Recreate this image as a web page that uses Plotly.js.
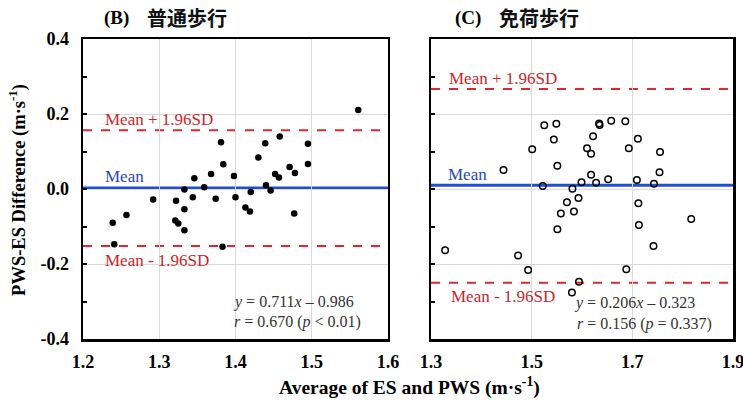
<!DOCTYPE html>
<html>
<head>
<meta charset="utf-8">
<script src="https://cdn.plot.ly/plotly-3.0.1.min.js"></script>
<style>html,body{margin:0;padding:0;background:#fff;}#chart{width:743px;height:405px;}</style>
</head>
<body>
<div id="chart"></div>
<script>
// (B) 普通歩行 — Average (x) vs Difference (y)
const normalAvg = [1.561,1.239,1.241,1.257,1.292,1.322,1.321,1.325,1.333,1.333,1.333,1.344,1.346,1.359,1.368,1.374,1.381,1.384,1.383,1.398,1.400,1.413,1.419,1.420,1.430,1.439,1.440,1.446,1.452,1.457,1.458,1.471,1.477,1.478,1.495,1.495];
const normalDiff = [0.211,-0.090,-0.147,-0.069,-0.028,-0.031,-0.084,-0.092,-0.054,-0.110,-0.001,-0.022,0.029,0.005,0.040,-0.026,0.125,0.066,-0.154,0.035,-0.022,-0.049,-0.060,-0.008,0.084,0.122,0.010,-0.004,0.040,0.031,0.140,0.059,-0.065,0.043,0.121,0.067];
// (C) 免荷歩行
const unloadAvg = [1.328,1.444,1.473,1.493,1.501,1.522,1.525,1.544,1.549,1.551,1.551,1.558,1.570,1.581,1.580,1.584,1.593,1.594,1.599,1.610,1.618,1.618,1.622,1.628,1.634,1.635,1.652,1.658,1.686,1.688,1.693,1.709,1.711,1.712,1.713,1.742,1.743,1.754,1.755,1.817];
const unloadDiff = [-0.163,0.051,-0.177,-0.216,0.106,0.008,0.170,0.132,0.174,0.062,-0.107,-0.065,-0.035,0.001,-0.276,-0.060,-0.024,-0.247,0.018,0.109,0.094,0.038,0.141,0.017,0.175,0.171,0.026,0.182,0.181,-0.214,0.109,0.024,0.134,-0.038,-0.096,-0.152,0.014,0.045,0.099,-0.080];
// Mean and limits of agreement [B, C]
const meanLines = [0.003, 0.010];
const upperLines = [0.157, 0.267];
const lowerLines = [-0.152, -0.250];
// Tick labels
const yTickVals = [-0.4,-0.2,0,0.2,0.4];
const yTickText = ['-0.4','-0.2','0.0','0.2','0.4'];
const xTickValsB = [1.2,1.3,1.4,1.5,1.6];
const xTickTextB = ['1.2','1.3','1.4','1.5','1.6'];
const xTickValsC = [1.3,1.5,1.7,1.9];
const xTickTextC = ['1.3','1.5','1.7','1.9'];
const panelLetters = ['(B)', '(C)'];
const panelNames = ['普通歩行', '免荷歩行'];
const eqLines = ['<i>y</i> = 0.711<i>x</i> – 0.986', '<i>r</i> = 0.670 (<i>p</i> < 0.01)',
                 '<i>y</i> = 0.206<i>x</i> – 0.323', '<i>r</i> = 0.156 (<i>p</i> = 0.337)'];

const serif = 'Liberation Serif, Times New Roman, Noto Sans CJK JP, serif';
const cjk = 'Noto Sans CJK JP, sans-serif';
const RED = '#e0272d', BLUE = '#1f4fd6', RED_T = '#c8262c', BLUE_T = '#2846c0';

const traces = [
  {x: normalAvg, y: normalDiff, xaxis:'x', yaxis:'y', mode:'markers', type:'scatter',
   marker:{color:'#000', size:6.5}, hoverinfo:'x+y'},
  {x: unloadAvg, y: unloadDiff, xaxis:'x2', yaxis:'y2', mode:'markers', type:'scatter',
   marker:{symbol:'circle-open', color:'#000', size:6.5, line:{width:1.5, color:'#000'}}, hoverinfo:'x+y'}
];

const tf = {family: serif, size: 18, color:'#000', weight:'bold'};
const axBase = {showline:true, linewidth:2.5, linecolor:'#000', mirror:true, zeroline:false,
  showgrid:true, gridcolor:'#d9d9d9', gridwidth:1, fixedrange:true, ticklabeloverflow:'allow'};
const yBase = Object.assign({}, axBase, {range:[-0.4,0.4], tickmode:'array', tickvals:yTickVals,
  ticktext:yTickText, ticks:'inside', ticklen:4, tickwidth:2, tickcolor:'#000',
  minor:{dtick:0.1, tick0:0, ticks:'inside', ticklen:4, tickwidth:2, tickcolor:'#000', showgrid:false}});

const shapes = [];
const xr = ['x','x2'], yr = ['y','y2'];
for (let i=0;i<2;i++){
  shapes.push({type:'line', xref: xr[i]+' domain', x0:0, x1:1, yref: yr[i], y0: upperLines[i], y1: upperLines[i], line:{color:RED, width:2, dash:'dash'}, layer:'below'});
  shapes.push({type:'line', xref: xr[i]+' domain', x0:0, x1:1, yref: yr[i], y0: lowerLines[i], y1: lowerLines[i], line:{color:RED, width:2, dash:'dash'}, layer:'below'});
  shapes.push({type:'line', xref: xr[i]+' domain', x0:0, x1:1, yref: yr[i], y0: meanLines[i], y1: meanLines[i], line:{color:BLUE, width:3}, layer:'below'});
}

const lf = {family: serif, size: 17, color: RED_T};
const bf = {family: serif, size: 17, color: BLUE_T};
const ef = {family: serif, size: 16, color: '#333'};
const titleF = {family: serif, size: 19, color:'#000', weight:'bold'};
const cjkF = {family: cjk, size: 20, color:'#111', weight:'bold'};
function ann(xref, yref, x, y, text, font, extra){
  return Object.assign({xref:xref, yref:yref, x:x, y:y, text:text, font:font, showarrow:false,
    xanchor:'left', yanchor:'middle'}, extra||{});
}
const annotations = [
  ann('x domain','y domain',0.064,0.733,'Mean + 1.96SD',lf),
  ann('x domain','y domain',0.064,0.541,'Mean',bf),
  ann('x domain','y domain',0.064,0.263,'Mean - 1.96SD',lf),
  ann('x domain','y domain',0.486,0.124,eqLines[0],ef),
  ann('x domain','y domain',0.490,0.058,eqLines[1],ef),
  ann('x2 domain','y2 domain',0.052,0.870,'Mean + 1.96SD',lf),
  ann('x2 domain','y2 domain',0.050,0.550,'Mean',bf),
  ann('x2 domain','y2 domain',0.060,0.141,'Mean - 1.96SD',lf),
  ann('x2 domain','y2 domain',0.468,0.120,eqLines[2],ef),
  ann('x2 domain','y2 domain',0.477,0.050,eqLines[3],ef),
  ann('paper','paper',0.0292,1.07,panelLetters[0],titleF),
  ann('paper','paper',0.0954,1.07,panelNames[0],cjkF),
  ann('paper','paper',0.569,1.07,panelLetters[1],titleF),
  ann('paper','paper',0.637,1.07,panelNames[1],cjkF),
  ann('paper','paper',-0.1,0.497,'PWS-ES Difference (m·s<sup>-1</sup>)',{family:serif,size:18.5,color:'#000',weight:'bold'},{textangle:-90, xanchor:'center'}),
  ann('paper','paper',0.503,-0.158,'Average of ES and PWS (m·s<sup>-1</sup>)',{family:serif,size:19.5,color:'#000',weight:'bold'},{xanchor:'center'})
];

const layout = {
  width:743, height:405,
  margin:{l:83, r:10, t:39, b:66},
  paper_bgcolor:'#fff', plot_bgcolor:'#fff',
  showlegend:false,
  xaxis: Object.assign({}, axBase, {domain:[0,0.4692], range:[1.2,1.6], anchor:'y', tickmode:'array',
    tickvals:xTickValsB, ticktext:xTickTextB, ticks:'', tickfont:tf, ticklabelstandoff:5}),
  yaxis: Object.assign({}, yBase, {anchor:'x', tickfont:tf, showticklabels:true, ticklabelstandoff:8}),
  xaxis2: Object.assign({}, axBase, {domain:[0.5354,1], range:[1.3,1.9], anchor:'y2', tickmode:'array',
    tickvals:xTickValsC, ticktext:xTickTextC, ticks:'', tickfont:tf, ticklabelstandoff:5}),
  yaxis2: Object.assign({}, yBase, {anchor:'x2', showticklabels:false}),
  shapes: shapes,
  annotations: annotations
};

Plotly.newPlot('chart', traces, layout, {displayModeBar:false, staticPlot:true});
</script>
</body>
</html>
